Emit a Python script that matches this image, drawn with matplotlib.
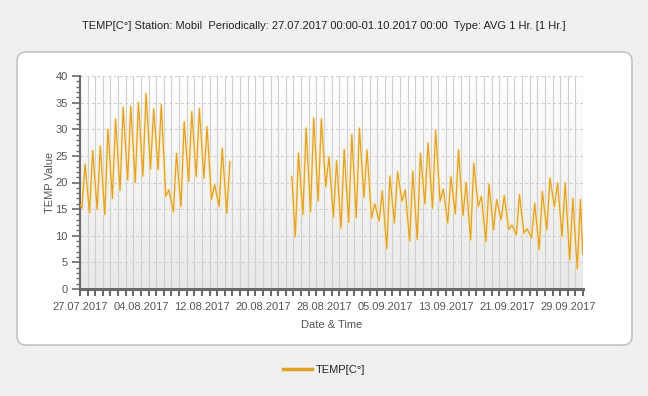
import datetime as dt
import numpy as np
import matplotlib
matplotlib.use('Agg')
import matplotlib.pyplot as plt
import matplotlib.dates as mdates
from matplotlib.patches import FancyBboxPatch
from matplotlib.ticker import MultipleLocator, FixedLocator

plt.rcParams['font.family'] = ['Liberation Sans', 'DejaVu Sans']

title = 'TEMP[C°] Station: Mobil  Periodically: 27.07.2017 00:00-01.10.2017 00:00  Type: AVG 1 Hr. [1 Hr.]'
series_name = 'TEMP[C°]'

# first block of readings: 27.07 -> 15.08 (daily low ~06:00, daily high ~16:00)
seg1_first_day = dt.datetime(2017, 7, 27)
seg1_start_value = 15.8
seg1_low = [15.2, 14.3, 14.9, 14.0, 17.0, 18.5, 20.5, 20.0, 21.2, 22.5,
            22.4, 17.4, 14.5, 15.5, 20.2, 21.1, 20.8, 16.8, 15.5, 14.2]
seg1_high = [23.4, 26.0, 26.8, 30.0, 31.9, 34.1, 34.3, 35.0, 36.7, 33.8,
             34.6, 18.6, 25.5, 31.4, 33.3, 33.9, 30.5, 19.6, 26.4, 23.9]

# second block: 23.08 evening -> 01.10
seg2_first_day = dt.datetime(2017, 8, 24)
seg2_start_time = dt.datetime(2017, 8, 23, 19)
seg2_start_value = 21.1
seg2_low = [9.8, 14.0, 14.5, 16.5, 19.2, 13.5, 11.4, 12.5, 13.4, 17.2,
            13.3, 12.8, 7.6, 12.4, 16.5, 9.0, 9.3, 16.0, 15.2, 16.5,
            12.4, 14.1, 13.8, 9.2, 15.5, 8.9, 11.1, 13.0, 11.2, 10.2,
            10.5, 9.6, 7.4, 11.1, 15.5, 9.9, 5.5, 3.8]
seg2_high = [25.5, 30.2, 32.1, 31.9, 24.8, 24.1, 26.2, 29.0, 30.2, 26.1,
             16.0, 18.4, 21.2, 22.0, 18.6, 22.1, 25.5, 27.4, 29.8, 18.8,
             21.1, 26.1, 20.0, 23.6, 17.4, 19.7, 16.8, 17.5, 12.0, 17.7,
             11.3, 16.1, 18.3, 20.8, 19.9, 19.9, 17.0, 16.8]
seg2_end_time = dt.datetime(2017, 9, 30, 23)
seg2_end_value = 6.5

x_start = dt.datetime(2017, 7, 27)
x_end = dt.datetime(2017, 10, 1)
label_dates = ['27.07.2017', '04.08.2017', '12.08.2017', '20.08.2017', '28.08.2017',
               '05.09.2017', '13.09.2017', '21.09.2017', '29.09.2017']


def build(first_day, lows, highs):
    t, v = [], []
    for i, (lo, hi) in enumerate(zip(lows, highs)):
        day = first_day + dt.timedelta(days=i)
        t += [day + dt.timedelta(hours=6), day + dt.timedelta(hours=16)]
        v += [lo, hi]
    return t, v


t1, v1 = build(seg1_first_day, seg1_low, seg1_high)
t1 = [seg1_first_day] + t1
v1 = [seg1_start_value] + v1
t2, v2 = build(seg2_first_day, seg2_low, seg2_high)
t2 = [seg2_start_time] + t2 + [seg2_end_time]
v2 = [seg2_start_value] + v2 + [seg2_end_value]

times = t1 + [t1[-1] + dt.timedelta(hours=1)] + t2
values = v1 + [np.nan] + v2

fig = plt.figure(figsize=(6.48, 3.96), dpi=100)
fig.patch.set_facecolor('#f0f0f0')

# white rounded panel (pixel coordinates), behind the axes
panel = FancyBboxPatch((17, 51), 615, 293, boxstyle='round,pad=0,rounding_size=9',
                       transform=None, facecolor='white', edgecolor='#c4c4c4',
                       linewidth=1.2, zorder=-5)
fig.patches.append(panel)

fig.text(0.5, 0.934, title, ha='center', va='center', fontsize=8, color='#222222')

ax = fig.add_axes([80 / 648, 1 - 289 / 396, 503 / 648, 213 / 396])
ax.set_facecolor('none')

# soft vertical gradient inside the plot area
grad = np.linspace(1, 0, 256).reshape(-1, 1)
cmap = matplotlib.colors.LinearSegmentedColormap.from_list('g', ['#e9e9e9', '#ffffff'])
ax.imshow(grad, cmap=cmap, aspect='auto', extent=[0, 1, 0, 1],
          transform=ax.transAxes, zorder=0)

ax.plot(times, values, color='#fbe7b0', linewidth=2.6, alpha=0.6, zorder=2)
line, = ax.plot(times, values, color='#e2a127', linewidth=0.9, zorder=3)

ax.set_xlim(x_start, x_end)
ax.set_ylim(0, 40)

tick_dates = [dt.datetime.strptime(s, '%d.%m.%Y') for s in label_dates]
ax.xaxis.set_major_locator(FixedLocator(mdates.date2num(tick_dates)))
ax.xaxis.set_major_formatter(mdates.DateFormatter('%d.%m.%Y'))
ax.xaxis.set_minor_locator(mdates.DayLocator())
ax.yaxis.set_major_locator(MultipleLocator(5))
ax.yaxis.set_minor_locator(MultipleLocator(1))

ax.grid(which='minor', axis='x', color='#cfcfcf', linewidth=0.8, zorder=1)
ax.grid(which='major', axis='x', color='#cfcfcf', linewidth=0.8, zorder=1)
ax.grid(which='major', axis='y', color='#d2d2d2', linewidth=0.8, linestyle=(0, (3, 2)), zorder=1)

for s in ['top', 'right']:
    ax.spines[s].set_visible(False)
ax.spines['bottom'].set_color('#6a6a6a')
ax.spines['bottom'].set_linewidth(2.2)
ax.spines['left'].set_color('#6a6a6a')
ax.spines['left'].set_linewidth(1.5)

ax.tick_params(axis='x', which='both', length=5, width=1.5, color='#6a6a6a',
               labelsize=8, labelcolor='#555555', pad=4)
ax.tick_params(axis='y', which='major', length=6, width=1.2, color='#6a6a6a',
               labelsize=8, labelcolor='#555555', pad=3)
ax.tick_params(axis='y', which='minor', length=3, width=1.0, color='#6a6a6a')

ax.set_xlabel('Date & Time', fontsize=8, color='#555555', labelpad=6)
ax.set_ylabel('TEMP Value', fontsize=8, color='#555555', labelpad=0)

fig.legend([line], [series_name], loc='center', bbox_to_anchor=(0.5, 1 - 370 / 396),
           frameon=False, fontsize=8, handlelength=2.6, handletextpad=0.4,
           labelcolor='#222222')
line_leg = fig.legends[0].get_lines()[0]
line_leg.set_linewidth(2.5)

fig.savefig('out.png', dpi=100, facecolor=fig.get_facecolor())
